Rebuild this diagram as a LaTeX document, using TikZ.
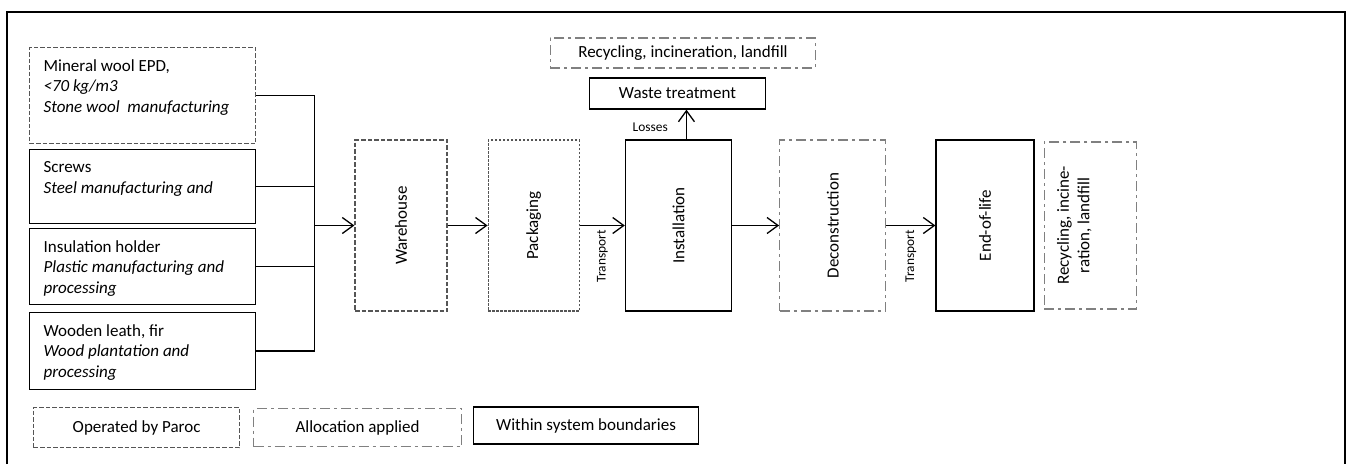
\documentclass[tikz,border=0pt]{standalone}
\usepackage{fontspec}
\setmainfont{Carlito}
\usepackage{xcolor}
\usetikzlibrary{arrows.meta, positioning, calc}
\definecolor{dashgray}{HTML}{555555}
\definecolor{allocgray}{HTML}{808080}
\newcommand{\srctext}[2]{\parbox[c][#1][t]{198pt}{#2}}

\begin{document}
\begin{tikzpicture}[
			x=1pt, y=-1pt,
			font=\fontsize{17}{20.5}\selectfont,
			box/.style={draw, line width=1.3pt, inner sep=0pt, align=center},
			src/.style={draw, line width=1.3pt, anchor=north west, inner xsep=14pt, inner ysep=12pt},
			stage/.style={box, minimum height=171pt},
			operated/.style={draw=dashgray, line width=1.2pt, dash pattern=on 4.5pt off 2pt},
			dotline/.style={draw=dashgray, line width=1.2pt, dash pattern=on 2.5pt off 1.5pt},
			allocated/.style={draw=allocgray, line width=1.3pt, dash pattern=on 10pt off 4pt on 3pt off 4pt},
			arrow/.style={-{Straight Barb[length=11pt,width=16pt]}, line width=1.3pt},
			small/.style={font=\fontsize{13.4}{16}\selectfont, inner sep=4pt}
			]
			\useasboundingbox (0,0) rectangle (1349,464);
			\draw[line width=1.6pt] (7,464) -- (7,12) -- (1345,12) -- (1345,464);
			
			% Nodes
			\node (wool) [src, operated] at (29,47) {\srctext{72pt}{Mineral wool EPD,\\ \textit{<70 kg/m3}\\ \textit{Stone wool\ \ manufacturing}}};
			\node (screws) [src, below=4.7pt of wool.south west, anchor=north west] {\srctext{50pt}{Screws\\ \textit{Steel manufacturing and}}};
			\node (holder) [src, below=3.7pt of screws.south west, anchor=north west] {\srctext{52pt}{Insulation holder\\ \textit{Plastic manufacturing and}\\ \textit{processing}}};
			\node (wood) [src, below=6.7pt of holder.south west, anchor=north west] {\srctext{53pt}{Wooden leath, fir\\ \textit{Wood plantation and}\\ \textit{processing}}};
			\coordinate (bus) at ($(wool.east)+(58,0)$);
			
			\node (ware) [stage, operated, minimum width=92pt] at (401,225.5) {\rotatebox{90}{Warehouse}};
			\node (pack) [stage, dotline, minimum width=91pt, right=40pt of ware] {\rotatebox{90}{Packaging}};
			\node (inst) [stage, minimum width=106pt, right=45pt of pack] {\rotatebox{90}{Installation}};
			\node (decon) [stage, allocated, minimum width=106pt, right=47pt of inst] {\rotatebox{90}{Deconstruction}};
			\node (eol) [stage, minimum width=98pt, right=49pt of decon] {\rotatebox{90}{End-of-life}};
			\node (recycle) [stage, allocated, minimum width=92pt, minimum height=167pt, right=9pt of eol] {\rotatebox{90}{\parbox{130pt}{\centering Recycling, incine-\\ration, landfill}}\hspace{32pt}};
			
			\node (waste) [box, minimum width=176pt, minimum height=31pt, above=29.7pt of inst, xshift=-1pt] {Waste treatment};
			\node (wasteend) [box, allocated, minimum width=265pt, minimum height=30pt, above=8.7pt of waste, xshift=5.5pt] {Recycling, incineration, landfill};
			
			% Legend
			\node (legop) [box, operated, minimum width=206pt, minimum height=40pt, anchor=north west] at (33,407) {Operated by Paroc};
			\node (legal) [box, allocated, minimum width=208pt, minimum height=38pt, right=12.7pt of legop] {Allocation applied};
			\node (legin) [box, minimum width=225pt, minimum height=37pt, right=10.7pt of legal, yshift=2pt] {Within system boundaries};
			
			% Connections
			\draw [line width=1.3pt] (wool.east) -- (bus) -- (bus |- wood.east) -- (wood.east);
			\draw [line width=1.3pt] (screws.east) -- (screws.east -| bus);
			\draw [line width=1.3pt] (holder.east) -- (holder.east -| bus);
			\draw [arrow] (bus |- ware.west) -- (ware.west);
			\draw [arrow] (ware) -- (pack);
			\draw [arrow] (pack) -- node[small, rotate=90, anchor=east] {Transport} (inst);
			\draw [arrow] (inst) -- (decon);
			\draw [arrow] (decon) -- node[small, rotate=90, anchor=east] {Transport} (eol);
			\draw [arrow] ([xshift=8pt]inst.north) -- node[small, pos=0.4, left=14pt] {Losses} ([xshift=8pt]inst.north |- waste.south);
			
		\end{tikzpicture}
\end{document}
